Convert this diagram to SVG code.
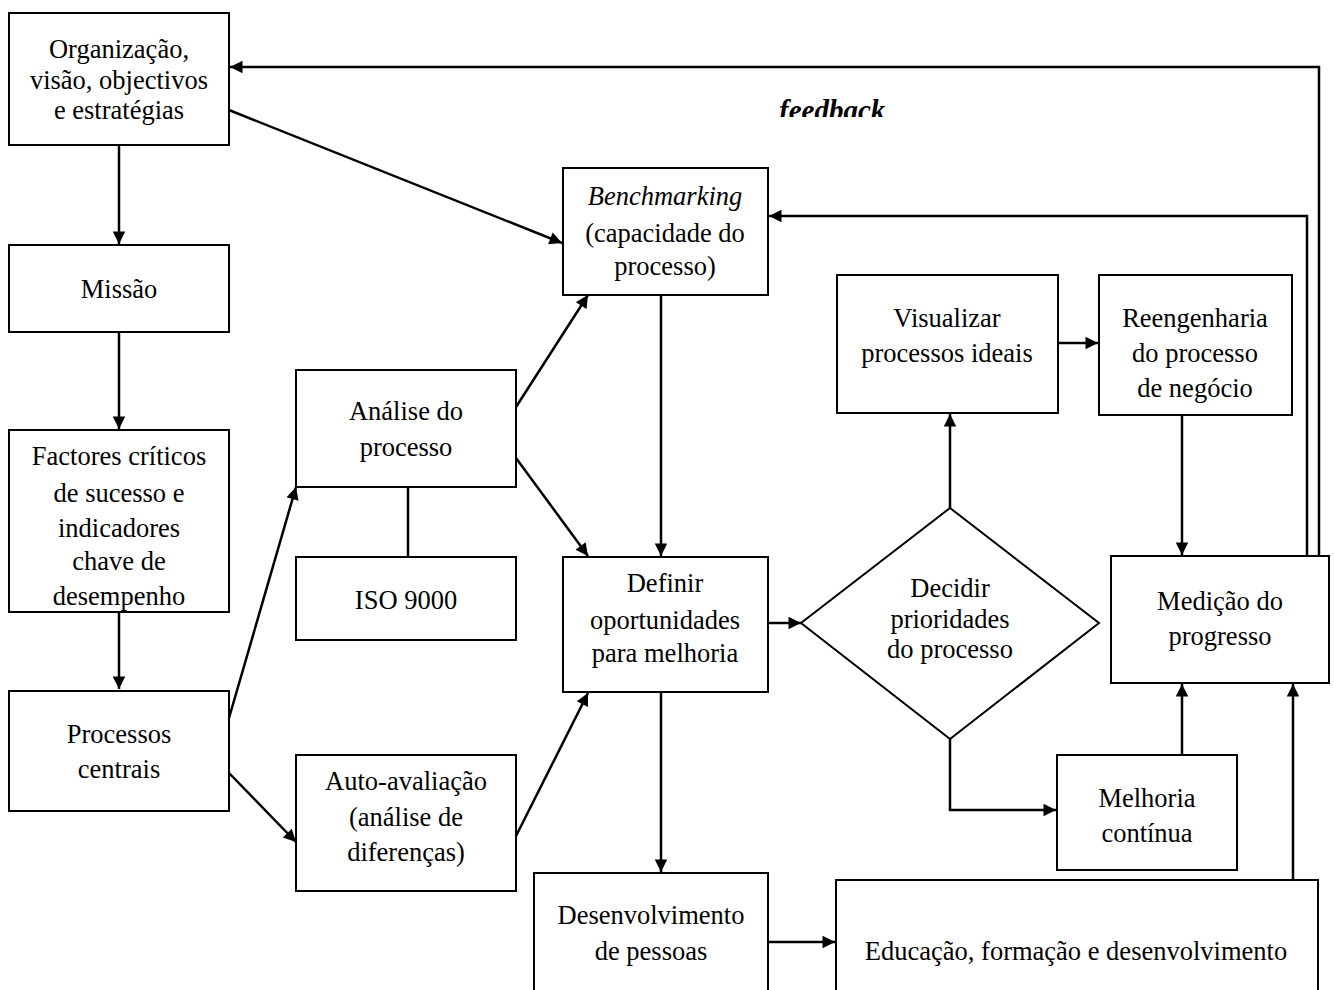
<svg xmlns="http://www.w3.org/2000/svg" width="1334" height="990" viewBox="0 0 1334 990">
  <style>
    .box { fill: #fff; stroke: #000; stroke-width: 2; }
    .lbl { font-family: "Liberation Serif", "Times New Roman", serif; font-size: 26.5px; fill: #000; text-anchor: middle; }
    .it { font-style: italic; }
    .fb { font-family: "Liberation Serif", "Times New Roman", serif; font-size: 29px; font-weight: bold; font-style: italic; fill: #000; }
    .ln { fill: none; stroke: #000; stroke-width: 2.5; }
  </style>
  <defs>
    <marker id="arr" viewBox="0 0 10 10" refX="10" refY="5" markerWidth="6" markerHeight="5" markerUnits="strokeWidth" orient="auto">
      <path d="M0,0 L10,5 L0,10 Z" fill="#000"/>
    </marker>
    <clipPath id="fbclip"><rect x="700" y="70" width="300" height="47"/></clipPath>
  </defs>
  <rect width="1334" height="990" fill="#fff"/>

  <g id="connectors">
    <!-- feedback loop to the top box -->
    <polyline class="ln" points="1319,556 1319,67 230,67" marker-end="url(#arr)"/>
    <!-- feedback loop to benchmarking -->
    <polyline class="ln" points="1307,556 1307,216 769,216" marker-end="url(#arr)"/>
    <line class="ln" x1="229" y1="110" x2="562" y2="243" marker-end="url(#arr)"/>
    <line class="ln" x1="119" y1="145" x2="119" y2="244" marker-end="url(#arr)"/>
    <line class="ln" x1="119" y1="332" x2="119" y2="429" marker-end="url(#arr)"/>
    <line class="ln" x1="119" y1="612" x2="119" y2="689" marker-end="url(#arr)"/>
    <line class="ln" x1="229" y1="718" x2="296" y2="487" marker-end="url(#arr)"/>
    <line class="ln" x1="229" y1="773" x2="296" y2="842" marker-end="url(#arr)"/>
    <line class="ln" x1="408" y1="487" x2="408" y2="557"/>
    <line class="ln" x1="516" y1="407" x2="588" y2="295" marker-end="url(#arr)"/>
    <line class="ln" x1="516" y1="458" x2="588" y2="556" marker-end="url(#arr)"/>
    <line class="ln" x1="516" y1="836" x2="588" y2="693" marker-end="url(#arr)"/>
    <line class="ln" x1="661" y1="295" x2="661" y2="556" marker-end="url(#arr)"/>
    <line class="ln" x1="661" y1="692" x2="661" y2="872" marker-end="url(#arr)"/>
    <line class="ln" x1="768" y1="623" x2="801" y2="623" marker-end="url(#arr)"/>
    <line class="ln" x1="768" y1="942" x2="835" y2="942" marker-end="url(#arr)"/>
    <line class="ln" x1="950" y1="508" x2="950" y2="414" marker-end="url(#arr)"/>
    <polyline class="ln" points="950,739 950,810 1056,810" marker-end="url(#arr)"/>
    <line class="ln" x1="1058" y1="343" x2="1098" y2="343" marker-end="url(#arr)"/>
    <line class="ln" x1="1182" y1="415" x2="1182" y2="555" marker-end="url(#arr)"/>
    <line class="ln" x1="1182" y1="755" x2="1182" y2="684" marker-end="url(#arr)"/>
    <line class="ln" x1="1293" y1="880" x2="1293" y2="684" marker-end="url(#arr)"/>
  </g>

  <g id="feedback-label" clip-path="url(#fbclip)">
    <text class="fb" x="779" y="120">feedback</text>
  </g>

  <g id="organizacao">
    <rect class="box" x="9" y="13" width="220" height="132"/>
    <text class="lbl" x="119" y="58">Organização,</text>
    <text class="lbl" x="119" y="89">visão, objectivos</text>
    <text class="lbl" x="119" y="119">e estratégias</text>
  </g>
  <g id="missao">
    <rect class="box" x="9" y="245" width="220" height="87"/>
    <text class="lbl" x="119" y="298">Missão</text>
  </g>
  <g id="factores">
    <rect class="box" x="9" y="430" width="220" height="182"/>
    <text class="lbl" x="119" y="465">Factores críticos</text>
    <text class="lbl" x="119" y="502">de sucesso e</text>
    <text class="lbl" x="119" y="537">indicadores</text>
    <text class="lbl" x="119" y="570">chave de</text>
    <text class="lbl" x="119" y="605">desempenho</text>
  </g>
  <g id="processos">
    <rect class="box" x="9" y="691" width="220" height="120"/>
    <text class="lbl" x="119" y="743">Processos</text>
    <text class="lbl" x="119" y="778">centrais</text>
  </g>
  <g id="analise">
    <rect class="box" x="296" y="370" width="220" height="117"/>
    <text class="lbl" x="406" y="420">Análise do</text>
    <text class="lbl" x="406" y="456">processo</text>
  </g>
  <g id="iso">
    <rect class="box" x="296" y="557" width="220" height="83"/>
    <text class="lbl" x="406" y="609">ISO 9000</text>
  </g>
  <g id="auto">
    <rect class="box" x="296" y="755" width="220" height="136"/>
    <text class="lbl" x="406" y="790">Auto-avaliação</text>
    <text class="lbl" x="406" y="826">(análise de</text>
    <text class="lbl" x="406" y="861">diferenças)</text>
  </g>
  <g id="benchmarking">
    <rect class="box" x="563" y="168" width="205" height="127"/>
    <text class="lbl it" x="665" y="205">Benchmarking</text>
    <text class="lbl" x="665" y="242">(capacidade do</text>
    <text class="lbl" x="665" y="275">processo)</text>
  </g>
  <g id="definir">
    <rect class="box" x="563" y="557" width="205" height="135"/>
    <text class="lbl" x="665" y="592">Definir</text>
    <text class="lbl" x="665" y="629">oportunidades</text>
    <text class="lbl" x="665" y="662">para melhoria</text>
  </g>
  <g id="desenvolvimento">
    <rect class="box" x="534" y="873" width="234" height="130"/>
    <text class="lbl" x="651" y="924">Desenvolvimento</text>
    <text class="lbl" x="651" y="960">de pessoas</text>
  </g>
  <g id="educacao">
    <rect class="box" x="836" y="880" width="482" height="130"/>
    <text class="lbl" x="1076" y="960">Educação, formação e desenvolvimento</text>
  </g>
  <g id="decidir">
    <polygon class="box" points="950,508 1099,623 950,739 801,623"/>
    <text class="lbl" x="950" y="597">Decidir</text>
    <text class="lbl" x="950" y="628">prioridades</text>
    <text class="lbl" x="950" y="658">do processo</text>
  </g>
  <g id="visualizar">
    <rect class="box" x="837" y="275" width="221" height="138"/>
    <text class="lbl" x="947" y="327">Visualizar</text>
    <text class="lbl" x="947" y="362">processos ideais</text>
  </g>
  <g id="reengenharia">
    <rect class="box" x="1099" y="275" width="193" height="140"/>
    <text class="lbl" x="1195" y="327">Reengenharia</text>
    <text class="lbl" x="1195" y="362">do processo</text>
    <text class="lbl" x="1195" y="397">de negócio</text>
  </g>
  <g id="medicao">
    <rect class="box" x="1111" y="556" width="218" height="127"/>
    <text class="lbl" x="1220" y="610">Medição do</text>
    <text class="lbl" x="1220" y="645">progresso</text>
  </g>
  <g id="melhoria">
    <rect class="box" x="1057" y="755" width="180" height="115"/>
    <text class="lbl" x="1147" y="807">Melhoria</text>
    <text class="lbl" x="1147" y="842">contínua</text>
  </g>
</svg>
